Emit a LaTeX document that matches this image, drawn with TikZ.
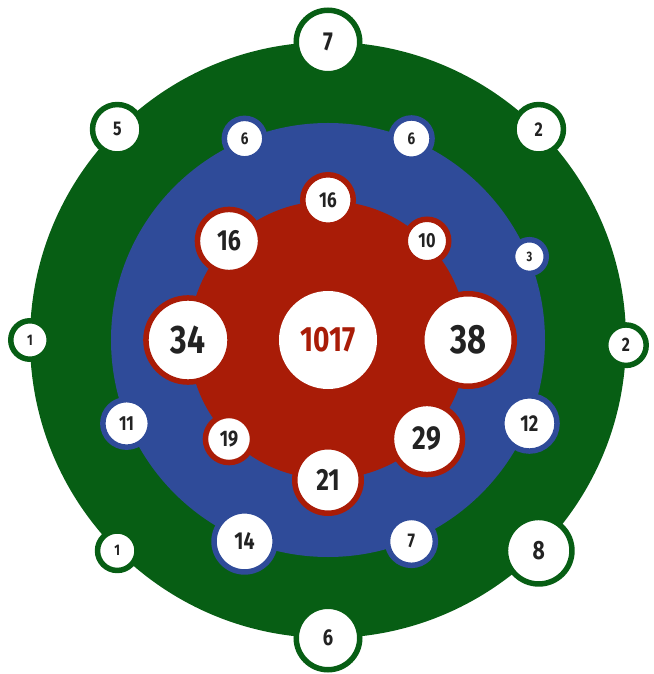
\documentclass[tikz,border=0pt]{standalone}
\usepackage{fontspec}
\newfontfamily\numf[FakeStretch=0.8]{Fira Sans}
\definecolor{grn}{HTML}{075E14}
\definecolor{blu}{HTML}{2F4B99}
\definecolor{rd}{HTML}{A91C07}
\definecolor{ink}{HTML}{222222}
\newcommand{\fsz}[1]{\pgfmathsetmacro\fsv{#1*1.06}\numf\bfseries\fontsize{\fsv}{\fsv}\selectfont}
\tikzset{disc/.style={circle,inner sep=0pt},
  bub/.style={circle,fill=white,inner sep=0pt,line width=5.5bp,text=ink}}

\begin{document}
\begin{tikzpicture}[x=1bp,y=1bp]
\useasboundingbox (-328,-334) rectangle (326,340);
% rings
\node[disc,fill=grn,minimum size=596bp] (outer) at (0,0) {};
\node[disc,fill=blu,minimum size=434bp] (middle) at (0,0) {};
\node[disc,fill=rd,minimum size=278bp] (inner) at (0,0) {};
% outer bubbles
\foreach \a/\r/\s/\t [count=\i] in {90/34.5/24.6/7,45/27.5/18.8/2,-1/23/18.4/2,-45/36/25/8,
  -90/34.5/21.7/6,-135/22.5/14.5/1,180/22/14.5/1,135/27.5/18.8/5}
  \node[bub,draw=grn,minimum size={2*\r*1bp-5.5bp},font={\fsz{\s}}] (g\i) at (\a:298) {\t};
% middle bubbles
\foreach \a/\r/\s/\t [count=\i] in {22.5/19.6/13/3,67.5/23.4/16/6,112.5/23/16/6,202.5/26.5/19.3/11,
  247.5/33.3/23.2/14,292.5/26.7/18.8/7,337.5/30.4/21.7/12}
  \node[bub,draw=blu,minimum size={2*\r*1bp-5.5bp},font={\fsz{\s}}] (b\i) at (\a:218) {\t};
% inner bubbles
\foreach \a/\r/\s/\t [count=\i] in {0/49/38.7/38,45/24.5/19.3/10,90/28/20.3/16,135/34.3/27.5/16,
  180/44.8/37.7/34,225/26.3/21.3/19,270/36/29/21,315/38.3/31.4/29}
  \node[bub,draw=rd,minimum size={2*\r*1bp-5.5bp},font={\fsz{\s}}] (r\i) at (\a:140) {\t};
\node[disc,fill=white,minimum size=98bp,text=rd,font={\fsz{33.3}}] (hub) at (0,0) {1017};
\end{tikzpicture}
\end{document}
